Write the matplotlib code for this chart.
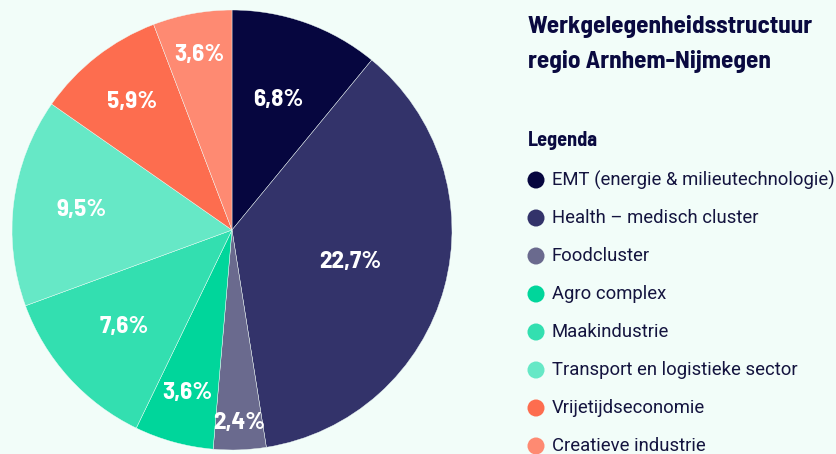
import matplotlib
matplotlib.use("Agg")
from matplotlib import pyplot as plt
import numpy as np

# data
sectors = ["EMT (energie & milieutechnologie)", "Health \u2013 medisch cluster", "Foodcluster",
           "Agro complex", "Maakindustrie", "Transport en logistieke sector",
           "Vrijetijdseconomie", "Creatieve industrie"]
shares = [6.8, 22.7, 2.4, 3.6, 7.6, 9.5, 5.9, 3.6]
labels = ["6,8%", "22,7%", "2,4%", "3,6%", "7,6%", "9,5%", "5,9%", "3,6%"]
colors = ["#06063f", "#33336a", "#6a6a8e", "#00d69b", "#33dfb0", "#66e8c6", "#fd6d4f", "#fe8a72"]

# label distance from the centre (fraction of radius)
label_r = [0.63, 0.555, 0.88, 0.77, 0.66, 0.69, 0.74, 0.81]

bg = "#f2fdf9"
navy = "#0a0a40"
condensed = ["Barlow Semi Condensed", "DejaVu Sans"]

fig = plt.figure(figsize=(8.37, 4.54), dpi=100, facecolor=bg)
W, H = 837, 454

# pie: centre (232, 230) px, radius 220 px
ax = fig.add_axes([12 / W, (H - 450) / H, 440 / W, 440 / H])
ax.set_facecolor(bg)
wedges, _ = ax.pie(shares, colors=colors, startangle=90, counterclock=False,
                   radius=1, wedgeprops=dict(edgecolor=bg, linewidth=0.3))
ax.set_xlim(-1, 1)
ax.set_ylim(-1, 1)
ax.set_aspect("auto")
ax.axis("off")

total = sum(shares)
cum = np.cumsum([0] + shares)
for i, lab in enumerate(labels):
    mid = (cum[i] + cum[i + 1]) / 2 / total * 2 * np.pi
    ang = np.pi / 2 - mid
    ax.text(label_r[i] * np.cos(ang), label_r[i] * np.sin(ang), lab, color="white",
            fontsize=18, fontweight="bold", family=condensed, ha="center", va="center")

# title and legend
fig.text(528 / W, 1 - 33 / H, "Werkgelegenheidsstructuur", color=navy, fontsize=18.2,
         fontweight="bold", family=condensed, ha="left", va="baseline")
fig.text(528 / W, 1 - 68 / H, "regio Arnhem-Nijmegen", color=navy, fontsize=18.2,
         fontweight="bold", family=condensed, ha="left", va="baseline")
fig.text(528 / W, 1 - 146 / H, "Legenda", color=navy, fontsize=14.5,
         fontweight="bold", family=condensed, ha="left", va="baseline")

lax = fig.add_axes([0, 0, 1, 1], facecolor="none")
lax.set_xlim(0, W)
lax.set_ylim(H, 0)
lax.axis("off")
for i, (name, c) in enumerate(zip(sectors, colors)):
    y = 180 + i * 38
    lax.scatter([536], [y], s=150, color=c, edgecolors="none")
    lax.text(552, y, name, color="#14143f", fontsize=13.3, family=["Roboto", "DejaVu Sans"],
             ha="left", va="center")

fig.savefig("out.png", dpi=100, facecolor=bg)
